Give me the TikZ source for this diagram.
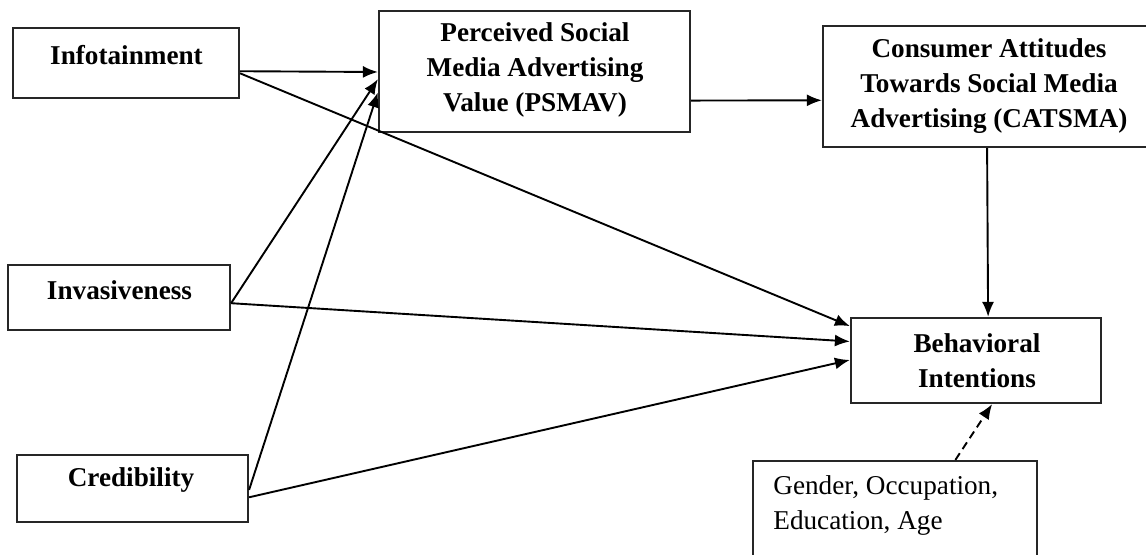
\documentclass[tikz,border=0pt]{standalone}
\usepackage{fontspec}
\setmainfont{Liberation Serif}
\usetikzlibrary{arrows.meta,calc}
\begin{document}
\begin{tikzpicture}[x=0.5pt,y=-0.5pt,
  box/.style={draw=black!85,line width=1.1pt,rectangle,inner sep=0pt,fill=none},
  lbl/.style={font=\fontsize{13.6}{17.5}\selectfont\bfseries,align=center,inner sep=0pt},
  plain/.style={font=\fontsize{13.6}{17.5}\selectfont,align=left,inner sep=0pt},
  conn/.style={line width=0.95pt,-{Latex[length=7.5pt,width=6pt]}},
  dconn/.style={conn,dash pattern=on 4pt off 2.5pt}]
\clip (0,0) rectangle (1146,555);
\fill[white] (0,0) rectangle (1146,555);
% boxes
\node[box,minimum width=113pt,minimum height=35pt] (info) at (126,63) {};
\node[box,minimum width=155.5pt,minimum height=60.5pt] (psmav) at (534.5,71.5) {};
\node[box,minimum width=168.5pt,minimum height=60.5pt] (cat) at (991.5,86.5) {};
\node[box,minimum width=111pt,minimum height=32.5pt] (inv) at (119,297.5) {};
\node[box,minimum width=115.5pt,minimum height=33.5pt] (cred) at (132.5,488.5) {};
\node[box,minimum width=125pt,minimum height=42.5pt] (beh) at (976,360.5) {};
\node[box,minimum width=142pt,minimum height=56pt] (gen) at (895,517) {};
% texts
\node[lbl] (infot) at (126.5,55) {Infotainment};
\node[lbl] (psmavt) at (535,70) {Perceived Social\\Media Advertising\\Value (PSMAV)};
\node[lbl] (catt) at (989,86) {Consumer Attitudes\\Towards Social Media\\Advertising (CATSMA)};
\node[lbl] (invt) at (119.5,290) {Invasiveness};
\node[lbl] (credt) at (131,480) {Credibility};
\node[lbl] (beht) at (977,361) {Behavioral\\Intentions};
\node[plain,anchor=west] (gent) at (773,505) {Gender, Occupation,\\Education, Age};
% connectors
\draw[conn] ($(info.north east)!0.614!(info.south east)$) -- ($(psmav.north west)!0.504!(psmav.south west)$);
\draw[conn] ($(info.north east)!0.643!(info.south east)$) -- ($(beh.north west)!0.106!(beh.south west)$);
\draw[conn] ($(inv.north east)!0.585!(inv.south east)$) -- ($(psmav.north west)!0.562!(psmav.south west)$);
\draw[conn] ($(inv.north east)!0.585!(inv.south east)$) -- ($(beh.north west)!0.282!(beh.south west)$);
\draw[conn] ($(cred.north east)!0.52!(cred.south east)$) -- ($(psmav.north west)!0.669!(psmav.south west)$);
\draw[conn] ($(cred.north east)!0.627!(cred.south east)$) -- ($(beh.north west)!0.494!(beh.south west)$);
\draw[conn] ($(psmav.north east)!0.736!(psmav.south east)$) -- ($(cat.north west)!0.612!(cat.south west)$);
\draw[conn] ($(cat.south west)!0.487!(cat.south east)$) -- ($(beh.north west)!0.548!(beh.north east)$);
\draw[dconn] ($(gen.north west)!0.711!(gen.north east)$) -- ($(beh.south west)!0.564!(beh.south east)$);
\end{tikzpicture}
\end{document}
